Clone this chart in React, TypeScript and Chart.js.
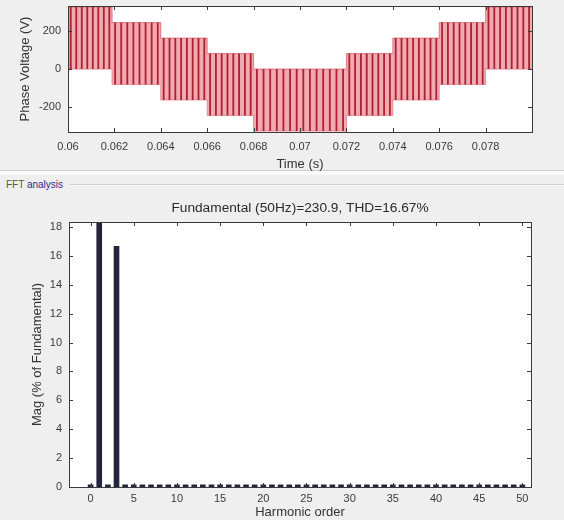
import React, { useEffect, useRef } from "react";
import { Chart, registerables } from "chart.js";

Chart.register(...registerables);

// ---------- Top panel: phase voltage ----------
const timeTicks = [0.06, 0.062, 0.064, 0.066, 0.068, 0.07, 0.072, 0.074, 0.076, 0.078];
const voltTicks = [-200, 0, 200];
// staircase segments of the PWM phase voltage
const segStart = [0.06, 0.0619, 0.064, 0.066, 0.068, 0.072, 0.074, 0.076, 0.078];
const segEnd = [0.0619, 0.064, 0.066, 0.068, 0.072, 0.074, 0.076, 0.078, 0.08];
const segLow = [0, -81, -162, -243, -325, -243, -162, -81, 0];
const segHigh = [325, 243, 162, 81, 0, 81, 162, 243, 325];
const segPulses = [8, 8, 8, 8, 14, 8, 8, 8, 8];

// ---------- Bottom panel: FFT ----------
const fftTitle = "Fundamental (50Hz)=230.9, THD=16.67%";
const harmonicOrders = [
  0, 1, 2, 3, 4, 5, 6, 7, 8, 9, 10, 11, 12, 13, 14, 15, 16, 17, 18, 19, 20, 21, 22, 23, 24, 25,
  26, 27, 28, 29, 30, 31, 32, 33, 34, 35, 36, 37, 38, 39, 40, 41, 42, 43, 44, 45, 46, 47, 48, 49, 50,
];
const harmonicMag = [
  0.15, 100, 0.15, 16.67, 0.15, 0.15, 0.15, 0.15, 0.15, 0.15, 0.15, 0.15, 0.15, 0.15, 0.15, 0.15, 0.15,
  0.15, 0.15, 0.15, 0.15, 0.15, 0.15, 0.15, 0.15, 0.15, 0.15, 0.15, 0.15, 0.15, 0.15, 0.15, 0.15, 0.15,
  0.15, 0.15, 0.15, 0.15, 0.15, 0.15, 0.15, 0.15, 0.15, 0.15, 0.15, 0.15, 0.15, 0.15, 0.15, 0.15, 0.15,
];
const orderTicks = [0, 5, 10, 15, 20, 25, 30, 35, 40, 45, 50];
const magTicks = [0, 2, 4, 6, 8, 10, 12, 14, 16, 18];

const FONT = "'Liberation Sans', Arial, Helvetica, sans-serif";
const TICK_COLOR = "#3a3a3a";
const TITLE_COLOR = "#333333";

const axisBox = {
  id: "axisBox",
  beforeDraw(chart: any) {
    const { ctx, chartArea: a } = chart;
    ctx.save();
    ctx.fillStyle = "#ffffff";
    ctx.fillRect(a.left, a.top, a.right - a.left, a.bottom - a.top);
    ctx.restore();
  },
  afterDatasetsDraw(chart: any) {
    const { ctx, chartArea: a, scales } = chart;
    const len = 4;
    const xs = scales.x;
    const ys = scales.y;
    ctx.save();
    ctx.strokeStyle = "#3a3a3a";
    ctx.lineWidth = 1;
    ctx.beginPath();
    xs.ticks.forEach((t: any) => {
      const px = Math.round(xs.getPixelForValue(t.value)) + 0.5;
      ctx.moveTo(px, a.bottom);
      ctx.lineTo(px, a.bottom - len);
      ctx.moveTo(px, a.top);
      ctx.lineTo(px, a.top + len);
    });
    ys.ticks.forEach((t: any) => {
      const py = Math.round(ys.getPixelForValue(t.value)) + 0.5;
      ctx.moveTo(a.left, py);
      ctx.lineTo(a.left + len, py);
      ctx.moveTo(a.right, py);
      ctx.lineTo(a.right - len, py);
    });
    ctx.stroke();
    ctx.strokeRect(
      Math.round(a.left) + 0.5,
      Math.round(a.top) + 0.5,
      Math.round(a.right - a.left),
      Math.round(a.bottom - a.top)
    );
    ctx.restore();
  },
};

// title centred over the plot area (as MATLAB does)
const areaTitle = {
  id: "areaTitle",
  afterDraw(chart: any, _args: any, opts: any) {
    if (!opts || !opts.text) return;
    const { ctx, chartArea: a } = chart;
    ctx.save();
    ctx.font = `${opts.size}px ${FONT}`;
    ctx.fillStyle = opts.color;
    ctx.textAlign = "center";
    ctx.textBaseline = "middle";
    ctx.fillText(opts.text, (a.left + a.right) / 2, opts.y);
    ctx.restore();
  },
};

function fmtTime(v: number) {
  return String(Number(Number(v).toFixed(4)));
}

function TopChart() {
  const ref = useRef<HTMLCanvasElement | null>(null);
  useEffect(() => {
    if (!ref.current) return;
    const last = segStart.length - 1;
    const bandHigh = segStart
      .map((s, i) => ({ x: s, y: segHigh[i] }))
      .concat([{ x: segEnd[last], y: segHigh[last] }]);
    const bandLow = segStart
      .map((s, i) => ({ x: s, y: segLow[i] }))
      .concat([{ x: segEnd[last], y: segLow[last] }]);
    const pulses: any[] = [];
    segStart.forEach((s, i) => {
      const n = segPulses[i];
      const p = (segEnd[i] - s) / n;
      for (let k = 0; k < n; k++) {
        const t = s + p * (k + 0.5);
        pulses.push({ x: t, y: segLow[i] }, { x: t, y: segHigh[i] }, { x: t, y: null });
      }
    });
    const chart = new Chart(ref.current, {
      type: "line",
      data: {
        datasets: [
          {
            data: bandHigh,
            stepped: "before",
            fill: "+1",
            backgroundColor: "rgba(236,140,152,0.75)",
            borderColor: "rgba(205,70,85,0.6)",
            borderWidth: 1,
            pointRadius: 0,
            order: 2,
            clip: 0,
          },
          {
            data: bandLow,
            stepped: "before",
            fill: false,
            borderColor: "rgba(205,70,85,0.6)",
            borderWidth: 1,
            pointRadius: 0,
            order: 2,
            clip: 0,
          },
          {
            data: pulses,
            fill: false,
            spanGaps: false,
            borderColor: "rgba(170,25,40,0.95)",
            borderWidth: 1.8,
            pointRadius: 0,
            order: 1,
            clip: 0,
          },
        ] as any,
      },
      options: {
        animation: false,
        responsive: false,
        events: [],
        layout: { padding: { left: 0, right: 32, top: 6, bottom: 0 } },
        plugins: {
          legend: { display: false },
          tooltip: { enabled: false },
        },
        scales: {
          x: {
            type: "linear",
            min: 0.06,
            max: 0.08,
            afterBuildTicks: (s: any) => {
              s.ticks = timeTicks.map((value) => ({ value }));
            },
            afterFit: (s: any) => {
              s.height = 40;
              s.paddingLeft = 0;
              s.paddingRight = 0;
            },
            grid: { display: false, drawTicks: false },
            border: { display: false },
            ticks: {
              font: { family: FONT, size: 11 },
              color: TICK_COLOR,
              padding: 8,
              maxRotation: 0,
              autoSkip: false,
              callback: (v: any) => fmtTime(v),
            },
            title: {
              display: true,
              text: "Time (s)",
              font: { family: FONT, size: 13 },
              color: TITLE_COLOR,
              padding: { top: 0, bottom: 0 },
            },
          },
          y: {
            type: "linear",
            min: -330,
            max: 330,
            afterBuildTicks: (s: any) => {
              s.ticks = voltTicks.map((value) => ({ value }));
            },
            afterFit: (s: any) => {
              s.width = 68;
              s.paddingTop = 0;
              s.paddingBottom = 0;
            },
            grid: { display: false, drawTicks: false },
            border: { display: false },
            ticks: {
              font: { family: FONT, size: 11 },
              color: TICK_COLOR,
              padding: 7,
              autoSkip: false,
            },
            title: {
              display: true,
              text: "Phase Voltage (V)",
              font: { family: FONT, size: 13 },
              color: TITLE_COLOR,
              padding: { top: 18, bottom: 0 },
            },
          },
        },
      } as any,
      plugins: [axisBox],
    });
    return () => chart.destroy();
  }, []);
  return (
    <canvas
      ref={ref}
      width={564}
      height={172}
      style={{ position: "absolute", left: 0, top: 0, width: 564, height: 172, display: "block" }}
    />
  );
}

function BottomChart() {
  const ref = useRef<HTMLCanvasElement | null>(null);
  useEffect(() => {
    if (!ref.current) return;
    const chart = new Chart(ref.current, {
      type: "bar",
      data: {
        datasets: [
          {
            data: harmonicOrders.map((o, i) => ({ x: o, y: harmonicMag[i] })),
            backgroundColor: "#24243f",
            borderWidth: 0,
            barThickness: 5,
            clip: 0,
          },
        ] as any,
      },
      options: {
        animation: false,
        responsive: false,
        events: [],
        layout: { padding: { left: 0, right: 33, top: 30, bottom: 0 } },
        plugins: {
          legend: { display: false },
          tooltip: { enabled: false },
          title: { display: false },
          areaTitle: { text: fftTitle, size: 13.7, color: "#2a2a2a", y: 16 },
        },
        scales: {
          x: {
            type: "linear",
            min: -2.5,
            max: 51,
            offset: false,
            afterBuildTicks: (s: any) => {
              s.ticks = orderTicks.map((value) => ({ value }));
            },
            afterFit: (s: any) => {
              s.height = 33;
              s.paddingLeft = 0;
              s.paddingRight = 0;
            },
            grid: { display: false, drawTicks: false, offset: false },
            border: { display: false },
            ticks: {
              font: { family: FONT, size: 11 },
              color: TICK_COLOR,
              padding: 5,
              maxRotation: 0,
              autoSkip: false,
            },
            title: {
              display: true,
              text: "Harmonic order",
              font: { family: FONT, size: 13 },
              color: TITLE_COLOR,
              padding: { top: 0, bottom: 0 },
            },
          },
          y: {
            type: "linear",
            min: 0,
            max: 18.35,
            afterBuildTicks: (s: any) => {
              s.ticks = magTicks.map((value) => ({ value }));
            },
            afterFit: (s: any) => {
              s.width = 69;
              s.paddingTop = 0;
              s.paddingBottom = 0;
            },
            grid: { display: false, drawTicks: false },
            border: { display: false },
            ticks: {
              font: { family: FONT, size: 11 },
              color: TICK_COLOR,
              padding: 7,
              autoSkip: false,
            },
            title: {
              display: true,
              text: "Mag (% of Fundamental)",
              font: { family: FONT, size: 13 },
              color: TITLE_COLOR,
              padding: { top: 30, bottom: 0 },
            },
          },
        },
      } as any,
      plugins: [axisBox, areaTitle],
    });
    return () => chart.destroy();
  }, []);
  return (
    <canvas
      ref={ref}
      width={564}
      height={328}
      style={{ position: "absolute", left: 0, top: 192, width: 564, height: 328, display: "block" }}
    />
  );
}

export default function App() {
  return (
    <div
      style={{
        position: "fixed",
        left: 0,
        top: 0,
        width: 564,
        height: 520,
        background: "#efefef",
        overflow: "hidden",
        fontFamily: FONT,
      }}
    >
      <div style={{ position: "absolute", left: 0, top: 170, width: 564, height: 1, background: "#cdcdcd" }} />
      <div style={{ position: "absolute", left: 0, top: 171, width: 564, height: 4, background: "#fafafa" }} />
      <TopChart />
      <div
        style={{
          position: "absolute",
          left: 6,
          top: 178,
          height: 14,
          lineHeight: "14px",
          fontSize: 10,
          whiteSpace: "nowrap",
        }}
      >
        <span style={{ color: "#555" }}>FFT </span>
        <span style={{ color: "#2b2b86" }}>analysis</span>
      </div>
      <div style={{ position: "absolute", left: 70, top: 184, width: 494, height: 1, background: "#cfcfcf" }} />
      <div style={{ position: "absolute", left: 70, top: 185, width: 494, height: 1, background: "#fbfbfb" }} />
      <BottomChart />
    </div>
  );
}
